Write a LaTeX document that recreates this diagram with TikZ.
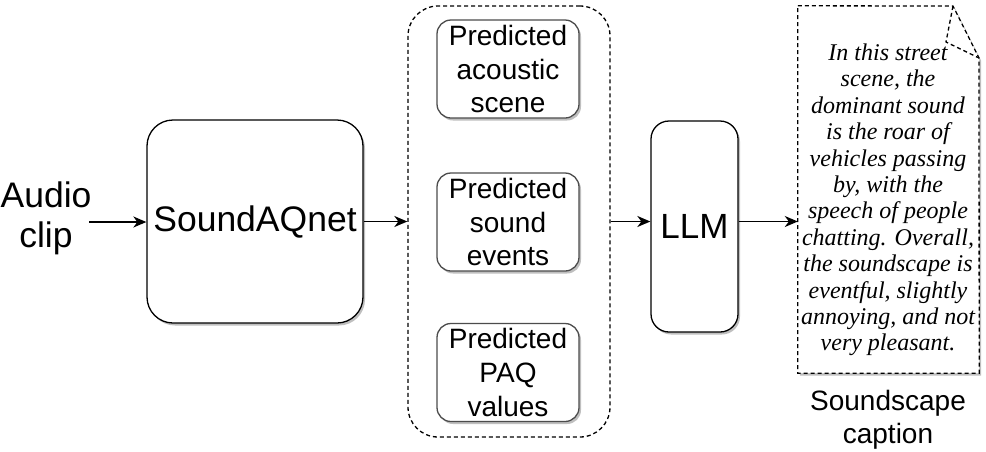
\documentclass[tikz,border=0pt]{standalone}
\usepackage{fontspec}
\setmainfont{Liberation Sans}
\newfontfamily\capfont{Liberation Serif}
\usetikzlibrary{arrows.meta,shadows}
\begin{document}
\begin{tikzpicture}[x=1pt,y=-1pt,
  lw/.style={line width=1.3pt},
  arr/.style={line width=1.6pt,-{Stealth[length=13pt,width=11pt,inset=4pt]}},
  softshadow/.style={drop shadow={shadow xshift=2pt,shadow yshift=-2.5pt,opacity=0.25,fill=black}},
  bigbox/.style={draw,lw,fill=white,rounded corners=#1,softshadow,align=center,inner sep=0pt},
  predbox/.style={draw=black!70,lw,fill=white,rounded corners=14pt,softshadow,
     minimum width=142pt,minimum height=98pt,align=center,inner sep=0pt,
     font=\fontsize{28}{33.6}\selectfont},
  dashbox/.style={draw,lw,dash pattern=on 4pt off 3pt},
  plain/.style={align=center,inner sep=0pt}
]
\useasboundingbox[fill=white] (0,0) rectangle (986,451);

% Audio clip
\node[plain,font=\fontsize{35.5}{40}\selectfont] (audio) at (46,218) {Audio\\clip};
\coordinate (ain) at (89,222);

% SoundAQnet
\node[bigbox=26pt,minimum width=216pt,minimum height=203pt,
      font=\fontsize{35.5}{40}\selectfont] (net) at (255,221.5) {SoundAQnet};

% container
\node[dashbox,rounded corners=30pt,minimum width=202pt,minimum height=431pt,inner sep=0pt] (cont) at (509,221.5) {};
\node[predbox] (p1) at (508,69) {Predicted\\acoustic\\scene};
\node[predbox] (p2) at (508,222) {Predicted\\sound\\events};
\node[predbox] (p3) at (508,372.5) {Predicted\\PAQ\\values};

% LLM
\node[bigbox=18pt,minimum width=87pt,minimum height=211pt,
      font=\fontsize{35}{40}\selectfont] (llm) at (694.5,226.5) {LLM};

% caption note
\node[inner sep=0pt,minimum width=181pt,minimum height=367pt] (cap) at (888.5,189.5) {};
\coordinate (fA) at (953,6);
\coordinate (fB) at (979,58);
\coordinate (fC) at (946,42);
\path[fill=white,softshadow] (cap.north west) -- (fA) -- (fB) -- (cap.south east) -- (cap.south west) -- cycle;
\draw[dashbox] (cap.north west) -- (fA) -- (fB) -- (cap.south east) -- (cap.south west) -- cycle;
\draw[dashbox] (fA) -- (fC) -- (fB);
\node[plain,font=\capfont\itshape\fontsize{24}{26.4}\selectfont] (captext) at (888,200)
 {In this street\\scene, the\\dominant sound\\is the roar of\\vehicles passing\\by, with the\\speech of people\\chatting. Overall,\\the soundscape is\\eventful, slightly\\annoying, and not\\very pleasant.};
\node[plain,font=\fontsize{28}{33}\selectfont] (caplabel) at (888,420) {Soundscape\\caption};

% arrows
\draw[arr] (ain) -- (ain -| net.west);
\draw[arr] (net.east) -- (cont.west);
\draw[arr] (cont.east) -- (cont.east -| llm.west);
\draw[arr] (llm.east |- cont.east) -- (cont.east -| cap.west);
\end{tikzpicture}
\end{document}
